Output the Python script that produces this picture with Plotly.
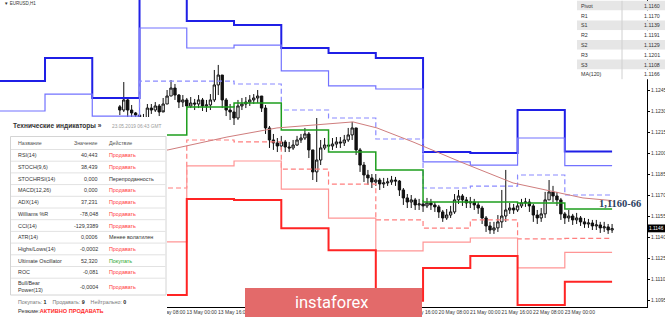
import plotly.graph_objects as go

# ---------------- data ----------------
first_open = 1.12330
closes = [1.12307, 1.12379, 1.12307, 1.12286, 1.12271, 1.12236, 1.12250, 1.12321, 1.12307, 1.12336,
          1.12293, 1.12350, 1.12407, 1.12464, 1.12414, 1.12364, 1.12379, 1.12336, 1.12357, 1.12350,
          1.12379, 1.12336, 1.12343, 1.12379, 1.12486, 1.12557, 1.12379, 1.12307, 1.12293, 1.12250,
          1.12336, 1.12350, 1.12364, 1.12379, 1.12393, 1.12407, 1.12321, 1.12179, 1.12093, 1.12072,
          1.12050, 1.12079, 1.12043, 1.12036, 1.12057, 1.12093, 1.12107, 1.12136, 1.12022, 1.11865,
          1.11950, 1.12036, 1.12057, 1.12050, 1.12064, 1.12079, 1.12072, 1.12093, 1.12129, 1.12179,
          1.12022, 1.11914, 1.11843, 1.11822, 1.11793, 1.11807, 1.11779, 1.11786, 1.11793, 1.11807,
          1.11800, 1.11736, 1.11679, 1.11650, 1.11665, 1.11629, 1.11636, 1.11622, 1.11643, 1.11629,
          1.11615, 1.11579, 1.11536, 1.11557, 1.11579, 1.11665, 1.11693, 1.11665, 1.11643, 1.11650,
          1.11629, 1.11607, 1.11536, 1.11479, 1.11450, 1.11465, 1.11508, 1.11550, 1.11593, 1.11607,
          1.11593, 1.11622, 1.11643, 1.11650, 1.11622, 1.11557, 1.11536, 1.11565, 1.11665, 1.11722,
          1.11693, 1.11665, 1.11565, 1.11536, 1.11550, 1.11522, 1.11536, 1.11508, 1.11493, 1.11500,
          1.11479, 1.11486, 1.11465, 1.11472, 1.11450, 1.11460]
highs = [1.12343, 1.12507, 1.12393, 1.12343, 1.12293, 1.12264, 1.12279, 1.12350, 1.12350, 1.12364,
         1.12350, 1.12393, 1.12450, 1.12521, 1.12493, 1.12421, 1.12414, 1.12393, 1.12400, 1.12386,
         1.12414, 1.12393, 1.12379, 1.12421, 1.12593, 1.12629, 1.12536, 1.12393, 1.12350, 1.12336,
         1.12379, 1.12393, 1.12400, 1.12414, 1.12421, 1.12450, 1.12407, 1.12343, 1.12193, 1.12136,
         1.12107, 1.12122, 1.12093, 1.12079, 1.12093, 1.12122, 1.12136, 1.12179, 1.12150, 1.12022,
         1.12250, 1.12093, 1.12107, 1.12093, 1.12107, 1.12114, 1.12114, 1.12129, 1.12179, 1.12222,
         1.12179, 1.12036, 1.11936, 1.11879, 1.11850, 1.11850, 1.11822, 1.11822, 1.11822, 1.11836,
         1.11829, 1.11807, 1.11750, 1.11707, 1.11700, 1.11679, 1.11672, 1.11665, 1.11679, 1.11672,
         1.11650, 1.11629, 1.11593, 1.11600, 1.11622, 1.11707, 1.11736, 1.11707, 1.11686, 1.11686,
         1.11672, 1.11650, 1.11622, 1.11550, 1.11508, 1.11508, 1.11557, 1.11736, 1.11879, 1.11643,
         1.11636, 1.11650, 1.11672, 1.11679, 1.11672, 1.11636, 1.11593, 1.11607, 1.11722, 1.11807,
         1.11765, 1.11722, 1.11679, 1.11579, 1.11593, 1.11565, 1.11572, 1.11550, 1.11536, 1.11529,
         1.11522, 1.11522, 1.11508, 1.11508, 1.11493, 1.11493]
lows = [1.12271, 1.12293, 1.12257, 1.12250, 1.12236, 1.12200, 1.12207, 1.12250, 1.12279, 1.12293,
        1.12264, 1.12307, 1.12350, 1.12407, 1.12379, 1.12321, 1.12329, 1.12307, 1.12321, 1.12307,
        1.12321, 1.12300, 1.12293, 1.12307, 1.12364, 1.12414, 1.12321, 1.12264, 1.12236, 1.12200,
        1.12236, 1.12307, 1.12321, 1.12336, 1.12350, 1.12357, 1.12293, 1.12136, 1.12036, 1.12022,
        1.12007, 1.12022, 1.12007, 1.12007, 1.12022, 1.12050, 1.12072, 1.12093, 1.11964, 1.11807,
        1.11793, 1.11914, 1.12022, 1.12007, 1.12022, 1.12036, 1.12036, 1.12050, 1.12079, 1.12093,
        1.11986, 1.11865, 1.11793, 1.11772, 1.11750, 1.11765, 1.11736, 1.11750, 1.11765, 1.11772,
        1.11765, 1.11693, 1.11629, 1.11607, 1.11607, 1.11593, 1.11593, 1.11579, 1.11607, 1.11593,
        1.11579, 1.11536, 1.11508, 1.11522, 1.11536, 1.11565, 1.11636, 1.11622, 1.11607, 1.11607,
        1.11593, 1.11565, 1.11493, 1.11436, 1.11422, 1.11422, 1.11436, 1.11465, 1.11508, 1.11565,
        1.11565, 1.11579, 1.11607, 1.11615, 1.11579, 1.11508, 1.11493, 1.11508, 1.11536, 1.11665,
        1.11650, 1.11622, 1.11522, 1.11493, 1.11508, 1.11486, 1.11493, 1.11479, 1.11465, 1.11465,
        1.11450, 1.11450, 1.11429, 1.11436, 1.11422, 1.11429]
first_bar = 62      # bar index of first candle (H1 bars; 2 bars per candle)
bar_step = 2

# daily pivot levels (one value per day, 13 days; each day = 24 H1 bars)
r3 = [1.12514, 1.12678, 1.12393, 1.13307, 1.12943, 1.12914, 1.12750, 1.12714, 1.12678, 1.12007, 1.12000, 1.12307, 1.1201]
r2 = [1.12300, 1.12421, 1.12264, 1.12893, 1.12750, 1.12771, 1.12586, 1.12479, 1.12457, 1.11936, 1.11914, 1.12107, 1.1191]
r1 = [1.12093, 1.12200, 1.12022, 1.12514, 1.12514, 1.12493, 1.12307, 1.12250, 1.12100, 1.11750, 1.11764, 1.11843, 1.1170]
pp = [1.11879, 1.12022, 1.11843, 1.12129, 1.12329, 1.12357, 1.12164, 1.12007, 1.11879, 1.11650, 1.11650, 1.11643, 1.1160]
s1 = [1.11665, 1.11807, 1.11629, 1.11750, 1.12093, 1.12079, 1.11885, 1.11778, 1.11522, 1.11464, 1.11522, 1.11386, 1.1139]
s2 = [1.11450, 1.11593, 1.11415, 1.11365, 1.11908, 1.11943, 1.11742, 1.11535, 1.11301, 1.11364, 1.11393, 1.11179, 1.1129]
s3 = [1.11236, 1.11379, 1.11200, 1.10986, 1.11672, 1.11665, 1.11463, 1.11306, 1.10944, 1.11178, 1.11265, 1.10915, 1.1108]
bars_per_day = 24

# MA(120) vertices (bar index, value)
ma_bar = [0, 86.5, 116.4, 141.8, 180.4, 192.6, 210.9, 236.3, 261.7, 279, 297.2, 312]
ma_val = [1.11843, 1.12022, 1.12114, 1.12179, 1.12222, 1.12179, 1.12079, 1.11929, 1.11786, 1.11736, 1.11679, 1.11660]

# visible time-axis labels (bar index of label start)
xlab_bar = [80, 96, 112, 208, 224, 240, 256, 272, 288]
xlab_txt = ["10 May 08:00", "13 May 00:00", "13 May 16:00", "17 May 16:00", "20 May 08:00", "21 May 00:00",
            "21 May 16:00", "22 May 08:00", "23 May 00:00"]
ytick_vals = [1.1095, 1.1110, 1.1125, 1.1140, 1.1155, 1.1170, 1.1185, 1.1200, 1.1215, 1.1230, 1.1245]
last_price = "1.1146"

piv_names = ["Pivot", "R1", "S1", "R2", "S2", "R3", "S3", "MA(120)"]
piv_values = ["1.1160", "1.1170", "1.1139", "1.1191", "1.1129", "1.1201", "1.1108", "1.1166"]

ind_names = ["RSI(14)", "STOCH(9,6)", "STOCHRSI(14)", "MACD(12,26)", "ADX(14)", "Williams %R", "CCI(14)",
             "ATR(14)", "Highs/Lows(14)", "Ultimate Oscillator", "ROC", "Bull/Bear<br>Power(13)"]
ind_values = ["40,443", "38,439", "0,000", "0,000", "37,231", "-78,048", "-129,3389", "0,0006", "-0,0002",
              "52,320", "-0,081", "-0,0004"]
ind_actions = ["Продавать", "Продавать", "Перепроданность", "Продавать", "Продавать", "Продавать", "Продавать",
               "Менее волатилен", "Продавать", "Покупать", "Продавать", "Продавать"]

# ---------------- geometry helpers ----------------
W, H = 647.0, 307.0
def px(x):
    return x / W
def py(y):
    return 1 - y / H

X0_PX, PX_PER_BAR = -2.25, 1.969
xmin = (0 - X0_PX) / PX_PER_BAR
xmax = (W - X0_PX) / PX_PER_BAR
YTOP, YBOT = 1.130929, 1.10900

fig = go.Figure()

day_edges = [bars_per_day * i for i in range(len(pp) + 1)]
def step(vals, color, width, dash=None):
    fig.add_trace(go.Scatter(x=day_edges, y=vals + [vals[-1]], mode="lines",
                             line=dict(shape="hv", color=color, width=width, dash=dash),
                             hoverinfo="skip", showlegend=False))

step(r3, "#1f1fe6", 2)
step(r2, "#7272ff", 1.2)
step(r1, "#8a8aff", 1.2, "5px,3px")
step(s1, "#ff7f7f", 1.2, "5px,3px")
step(s2, "#ff9595", 1.2)
step(s3, "#ff2424", 2)
step(pp, "#1e9e1e", 1.5)

fig.add_trace(go.Scatter(x=ma_bar, y=ma_val, mode="lines", line=dict(color="#cf7d7d", width=1),
                         hoverinfo="skip", showlegend=False))

n = min(len(closes), len(highs), len(lows))
opens = [first_open] + closes[:n - 1]
cx = [first_bar + bar_step * i for i in range(n)]
fig.add_trace(go.Candlestick(
    x=cx, open=opens, high=highs[:n], low=lows[:n], close=closes[:n],
    increasing=dict(line=dict(color="#111111", width=1), fillcolor="#ffffff"),
    decreasing=dict(line=dict(color="#111111", width=1), fillcolor="#111111"),
    whiskerwidth=0, showlegend=False, hoverinfo="skip"))

shapes = []
ann = []
F = "Liberation Sans, Arial, sans-serif"

def text(x, y, t, size, color, xanchor="left", family=F, align="left"):
    ann.append(dict(xref="paper", yref="paper", x=px(x), y=py(y), text=t, showarrow=False,
                    xanchor=xanchor, yanchor="middle", align=align,
                    font=dict(size=size, color=color, family=family)))

def rect(x0, y0, x1, y1, fill, line=None):
    shapes.append(dict(type="rect", xref="paper", yref="paper", x0=px(x0), x1=px(x1), y0=py(y1), y1=py(y0),
                       fillcolor=fill, line=line or dict(width=0), layer="above"))

def hline(x0, x1, y, color):
    shapes.append(dict(type="line", xref="paper", yref="paper", x0=px(x0), x1=px(x1), y0=py(y), y1=py(y),
                       line=dict(color=color, width=1), layer="above"))

# left white cover + indicator table
rect(0, 117, 167, 317, "white")
rect(10.5, 136.5, 166, 295, "white", dict(color="#d4d4d4", width=1))
text(11, 126.5, "<b>Технические индикаторы »</b>", 6.6, "#333")
text(110, 126.5, "23.05.2019 06:43 GMT", 4.8, "#9a9a9a")
hy = 142.5
text(16, hy, "Название", 5.3, "#555")
text(100, hy, "Значение", 5.3, "#555", xanchor="right")
text(107, hy, "Действие", 5.3, "#555")
row_y = 149.5
row_h = 11.7
for i, (nm, vl, ac) in enumerate(zip(ind_names, ind_values, ind_actions)):
    h = row_h if i < len(ind_names) - 1 else 17.5
    hline(11, 165.5, row_y, "#e2e2e2")
    yc = row_y + h / 2
    if ac == "Продавать":
        col = "#ff3b3b"
    elif ac == "Покупать":
        col = "#2ea82e"
    else:
        col = "#333333"
    text(16, yc, nm, 5.4, "#333")
    text(100, yc, vl, 5.4, "#333", xanchor="right")
    text(107, yc, ac, 5.4, col)
    row_y += h
text(16, 301.5, "Покупать: <b><span style='color:#222'>1</span></b>    Продавать: <b><span style='color:#222'>9</span></b>    Нейтрально: <b><span style='color:#222'>0</span></b>",
     5.3, "#777")
text(16, 310.5, "Резюме:<b><span style='color:#ff2b2b'>АКТИВНО ПРОДАВАТЬ</span></b>", 5.6, "#333")

# top-right pivot table
tr_top, tr_h = 0.8, 9.8
for i, (nm, vl) in enumerate(zip(piv_names, piv_values)):
    y0 = tr_top + tr_h * i
    rect(577, y0, 665, y0 + tr_h, "#e6e6e6" if i % 2 == 0 else "#ffffff")
    text(579, y0 + tr_h / 2, nm, 5.3, "#333")
    text(662, y0 + tr_h / 2, vl, 5.3, "#333", xanchor="right")
shapes.append(dict(type="line", xref="paper", yref="paper", x0=px(622), x1=px(622), y0=py(tr_top + tr_h * 8),
                   y1=py(tr_top), line=dict(color="#d0d0d0", width=1), layer="above"))

# current price box
rect(647, 224.5, 665, 232.3, "#000000")
text(656, 228.4, last_price, 4.8, "white", xanchor="center")

# level annotation
text(597, 203.5, "<b>1,1160-66</b>", 10.5, "#2a3e5e", family="Liberation Serif, Times New Roman, serif")

# symbol caption
text(2, 3.5, "▼ EURUSD,H1", 4.5, "#333")

# instaforex logo
rect(245, 288, 422, 317, "#e36a6a")
text(332, 302.5, "instaforex", 16.5, "white", xanchor="center", family="Roboto, sans-serif")

label_shift = 7.6  # label centred half a label-width right of its tick
fig.update_layout(
    width=665, height=317, margin=dict(l=0, r=18, t=0, b=10, autoexpand=False),
    paper_bgcolor="white", plot_bgcolor="white", boxgap=0.15,
    showlegend=False, shapes=shapes, annotations=ann,
    xaxis=dict(range=[xmin, xmax], showgrid=False, zeroline=False, rangeslider=dict(visible=False),
               tickvals=[b + label_shift for b in xlab_bar], ticktext=xlab_txt, ticks="", tickangle=0,
               automargin=False,
               tickfont=dict(size=5, color="#333", family=F), showline=True, linecolor="#000", linewidth=1,
               fixedrange=True),
    yaxis=dict(range=[YBOT, YTOP], side="right", showgrid=False, zeroline=False, automargin=False,
               tickvals=ytick_vals, ticktext=[f"{v:.4f}" for v in ytick_vals], ticks="outside", ticklen=2,
               tickcolor="#000", tickfont=dict(size=5, color="#333", family=F), showline=True,
               linecolor="#000", linewidth=1, fixedrange=True),
)
fig.write_html("out.html")
